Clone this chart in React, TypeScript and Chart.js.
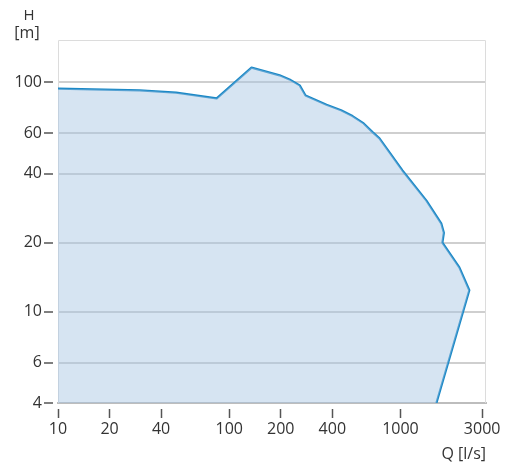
import React, { useEffect, useRef } from "react";
import { Chart, registerables } from "chart.js";

Chart.register(...registerables);

// Envelope (performance range) of the pump family
const flowQ = [10, 30, 49, 84.5, 135, 197, 225, 258, 279, 370, 450, 525, 610, 687, 754, 1027, 1418, 1734, 1793, 1758, 2208, 2525, 1622];
const headH = [93.9, 92.3, 90.2, 85.1, 116, 107.3, 103, 97, 87.7, 79.9, 75.6, 71.3, 66.2, 60.7, 57, 41.3, 30.5, 24.2, 22.1, 20, 15.6, 12.4, 4];

const xTicks = [10, 20, 40, 100, 200, 400, 1000, 3000];
const yTicks = [4, 6, 10, 20, 40, 60, 100];

const xTitle = "Q [l/s]";
const yTitleTop = "H";
const yTitleBottom = "[m]";

const X_MIN = 10;
const X_MAX = 3160;
const Y_MIN = 4;
const Y_MAX = 153;

const FONT = "'Open Sans', 'Noto Sans', sans-serif";
const TEXT = "#333333";

const frame = {
  id: "frame",
  beforeDatasetsDraw(chart: any) {
    const { ctx, chartArea } = chart;
    ctx.save();
    ctx.strokeStyle = "#dcdcdc";
    ctx.lineWidth = 1;
    ctx.beginPath();
    ctx.moveTo(chartArea.left + 0.5, chartArea.bottom);
    ctx.lineTo(chartArea.left + 0.5, chartArea.top + 0.5);
    ctx.lineTo(chartArea.right - 0.5, chartArea.top + 0.5);
    ctx.lineTo(chartArea.right - 0.5, chartArea.bottom);
    ctx.stroke();
    ctx.restore();
  },
  afterDraw(chart: any) {
    const { ctx } = chart;
    ctx.save();
    ctx.fillStyle = TEXT;
    ctx.textAlign = "center";
    ctx.textBaseline = "middle";
    ctx.font = `15px ${FONT}`;
    ctx.fillText(yTitleTop, 29, 16);
    ctx.font = `16px ${FONT}`;
    ctx.fillText(yTitleBottom, 27, 33);
    ctx.restore();
  },
};

export default function App() {
  const ref = useRef<HTMLCanvasElement | null>(null);

  useEffect(() => {
    if (!ref.current) return;
    const linePts = flowQ.map((q, i) => ({ x: q, y: headH[i] }));
    // closed outline of the range: curve, then back along the bottom to the left edge
    const areaPts = [...linePts, { x: X_MIN, y: Y_MIN }];
    const chart = new Chart(ref.current, {
      type: "line",
      data: {
        datasets: [
          {
            data: areaPts,
            borderWidth: 0,
            borderColor: "rgba(0,0,0,0)",
            backgroundColor: "rgba(164,195,226,0.45)",
            fill: "shape",
            pointRadius: 0,
            tension: 0,
          },
          {
            data: linePts,
            borderColor: "#1b88c6",
            borderWidth: 2.2,
            borderJoinStyle: "round",
            fill: false,
            pointRadius: 0,
            tension: 0,
          },
        ],
      },
      options: {
        animation: false,
        responsive: false,
        maintainAspectRatio: false,
        layout: { padding: { top: 40, right: 20, left: 0, bottom: 0 } },
        plugins: { legend: { display: false }, tooltip: { enabled: false } },
        scales: {
          x: {
            type: "logarithmic",
            min: X_MIN,
            max: X_MAX,
            afterBuildTicks: (s: any) => {
              s.ticks = xTicks.map((v) => ({ value: v }));
            },
            afterFit: (s: any) => {
              s.height = 64;
            },
            border: { display: true, color: "#bdbdbd", width: 2 },
            grid: {
              display: true,
              drawOnChartArea: false,
              drawTicks: true,
              tickLength: 15,
              tickColor: "#555",
              tickWidth: 1.5,
              tickBorderDash: [10, 5],
              tickBorderDashOffset: 10,
            },
            ticks: {
              color: TEXT,
              font: { family: FONT, size: 16 },
              padding: 2,
              maxRotation: 0,
              autoSkip: false,
              callback: (v: any) => String(v),
            },
            title: {
              display: true,
              text: xTitle,
              align: "end",
              color: TEXT,
              font: { family: FONT, size: 16 },
              padding: { top: 0, bottom: 3 },
            },
          },
          y: {
            type: "logarithmic",
            min: Y_MIN,
            max: Y_MAX,
            afterBuildTicks: (s: any) => {
              s.ticks = yTicks.map((v) => ({ value: v }));
            },
            afterFit: (s: any) => {
              s.width = 58;
            },
            border: { display: false },
            grid: {
              display: true,
              drawOnChartArea: true,
              color: "#cfcfcf",
              lineWidth: 2,
              drawTicks: true,
              tickLength: 14,
              tickColor: "#555",
              tickWidth: 1.5,
              tickBorderDash: [9, 5],
            },
            ticks: {
              color: TEXT,
              font: { family: FONT, size: 16 },
              padding: 2,
              autoSkip: false,
              callback: (v: any) => String(v),
            },
          },
        },
      },
      plugins: [frame],
    });
    return () => chart.destroy();
  }, []);

  return (
    <div style={{ position: "fixed", left: 0, top: 0, width: 506, height: 467, background: "#fff" }}>
      <canvas ref={ref} width={506} height={467} style={{ width: 506, height: 467, display: "block" }} />
    </div>
  );
}
